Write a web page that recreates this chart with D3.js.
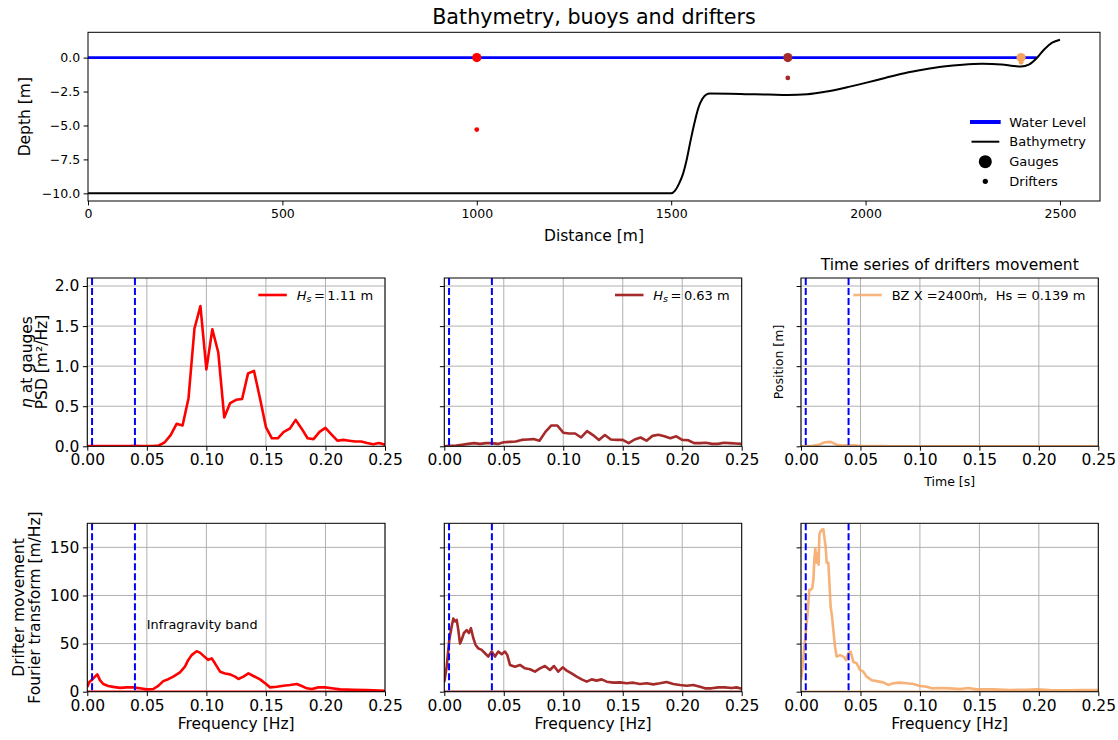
<!DOCTYPE html>
<html>
<head>
<meta charset="utf-8">
<script src="https://cdn.jsdelivr.net/npm/d3@7"></script>
<style>
  body { margin: 0; background: #fff; }
  svg { font-family: "DejaVu Sans", sans-serif; }
  text { fill: #000; }
</style>
</head>
<body>
<svg id="fig" width="1118" height="740"></svg>
<script>
// ---------------- Bathymetry profile, gauges and drifters ----------------
const bathyX = [0, 1500, 1510, 1520, 1530, 1540, 1550, 1560, 1570, 1580, 1590, 1600,
  1650, 1700, 1750, 1800, 1850, 1900, 1950, 2000, 2050, 2100, 2150, 2200, 2250, 2300,
  2350, 2380, 2400, 2420, 2440, 2460, 2480, 2500];
const bathyZ = [-10, -10, -9.8, -9.3, -8.6, -7.5, -6.1, -4.8, -3.7, -3.05, -2.72, -2.65,
  -2.66, -2.7, -2.72, -2.75, -2.7, -2.5, -2.2, -1.86, -1.5, -1.15, -0.88, -0.66, -0.52, -0.46,
  -0.5, -0.62, -0.66, -0.52, -0.05, 0.62, 1.1, 1.32];
const waterLevelX = [0, 2440];
const waterLevelZ = [0, 0];
const stationX = [1000, 1800, 2400];
const gaugeZ = [0, 0, 0];
const drifterZ = [-5.3, -1.5, -0.35];
const stationColors = ["#ff0000", "#a52a2a", "#f4a460"];

const distanceTicks = [0, 500, 1000, 1500, 2000, 2500];
const depthTicks = [0, -2.5, -5, -7.5, -10];
const bathyLegend = ["Water Level", "Bathymetry", "Gauges", "Drifters"];

// ---------------- Wave spectra at gauges (PSD) ----------------
const psdFreq = [0, 0.005, 0.01, 0.015, 0.02, 0.025, 0.03, 0.035, 0.04, 0.045, 0.05,
  0.055, 0.06, 0.065, 0.07, 0.075, 0.08, 0.085, 0.09, 0.095, 0.1,
  0.105, 0.11, 0.115, 0.12, 0.125, 0.13, 0.135, 0.14, 0.145, 0.15,
  0.155, 0.16, 0.165, 0.17, 0.175, 0.18, 0.185, 0.19, 0.195, 0.2,
  0.205, 0.21, 0.215, 0.22, 0.225, 0.23, 0.235, 0.24, 0.245, 0.25];
const psdGauge1000 = [0.002, 0.003, 0.003, 0.003, 0.004, 0.004, 0.004, 0.004, 0.005, 0.004, 0.003,
  0.004, 0.01, 0.05, 0.14, 0.28, 0.26, 0.6, 1.47, 1.75, 0.96,
  1.46, 1.17, 0.36, 0.54, 0.58, 0.59, 0.91, 0.94, 0.6, 0.24,
  0.1, 0.1, 0.18, 0.22, 0.33, 0.22, 0.1, 0.09, 0.18, 0.23,
  0.15, 0.07, 0.08, 0.07, 0.06, 0.06, 0.04, 0.025, 0.04, 0.02];
const psdGauge1800 = [0.0, 0.005, 0.01, 0.02, 0.03, 0.04, 0.03, 0.04, 0.04, 0.03, 0.05,
  0.055, 0.06, 0.08, 0.085, 0.09, 0.07, 0.18, 0.26, 0.26, 0.17,
  0.16, 0.16, 0.11, 0.19, 0.14, 0.08, 0.14, 0.085, 0.08, 0.08,
  0.04, 0.085, 0.11, 0.07, 0.13, 0.145, 0.125, 0.1, 0.125, 0.08,
  0.075, 0.04, 0.04, 0.045, 0.03, 0.03, 0.045, 0.04, 0.035, 0.03];
const psdDrifter2400 = [0, 0.002, 0.006, 0.02, 0.05, 0.055, 0.02, 0.01, 0.012, 0.012, 0.004,
  0.002, 0.002, 0.003, 0.002, 0.001, 0.001, 0.001, 0.001, 0.001, 0.001,
  0.001, 0.001, 0.001, 0.001, 0.001, 0.001, 0.001, 0.001, 0.001, 0.001,
  0.001, 0.001, 0.001, 0.001, 0.001, 0.001, 0.001, 0.001, 0.001, 0.001,
  0.001, 0.001, 0.001, 0.001, 0.001, 0.001, 0.001, 0.001, 0.001, 0.001];
const hsValues = ["1.11", "0.63", "0.139"];

// ---------------- Drifter movement spectra ----------------
const driftFreq1000 = [0, 0.0017, 0.0045, 0.0064, 0.0084, 0.0106, 0.0134, 0.0176, 0.0218, 0.0274,
  0.033, 0.0386, 0.0442, 0.0498, 0.0554, 0.0596, 0.0638, 0.068, 0.0722, 0.0778,
  0.082, 0.0848, 0.0876, 0.0918, 0.0946, 0.0974, 0.1016, 0.1044, 0.1072, 0.1115,
  0.1157, 0.1199, 0.1241, 0.1269, 0.1311, 0.1353, 0.1395, 0.1451, 0.1493, 0.1535,
  0.1591, 0.1647, 0.1703, 0.1759, 0.1801, 0.1843, 0.1885, 0.1941, 0.1997, 0.2053,
  0.2123, 0.2235, 0.2347, 0.25];
const driftAmp1000 = [5, 10, 13, 15.6, 18, 12, 8, 6, 5, 4,
  4.5, 4.5, 3.5, 2.4, 2.8, 6, 11, 13, 15.6, 20,
  26, 33, 38, 42, 40.6, 37.5, 33, 34.7, 29.5, 20.8,
  19, 18, 15.6, 13.2, 15.6, 19, 16.3, 12.8, 8.7, 4.5,
  5.2, 6.2, 7, 8, 5.9, 3.5, 2.8, 4.5, 4.5, 3.5,
  2.4, 2.1, 1.7, 1];

const driftFreq1800 = [0, 0.002, 0.0042, 0.0062, 0.0076, 0.009, 0.0104, 0.0118, 0.0132, 0.0146,
  0.0165, 0.0188, 0.0207, 0.0224, 0.0244, 0.0263, 0.0286, 0.0314, 0.0342, 0.037,
  0.0398, 0.0426, 0.0454, 0.0482, 0.051, 0.053, 0.0552, 0.0594, 0.0636, 0.0678,
  0.072, 0.0762, 0.0804, 0.0846, 0.0888, 0.0922, 0.0958, 0.0995, 0.1029, 0.107,
  0.1113, 0.1155, 0.1197, 0.1239, 0.128, 0.1323, 0.1365, 0.142, 0.1477, 0.1533,
  0.1589, 0.1645, 0.1701, 0.1757, 0.1813, 0.1869, 0.1925, 0.1981, 0.2037, 0.2093,
  0.2149, 0.2191, 0.2247, 0.2303, 0.2359, 0.2415, 0.2457, 0.25];
const driftAmp1800 = [10, 26, 54, 67.7, 76, 73, 74.7, 64, 50, 54,
  61, 64, 61, 66, 55.6, 48.6, 45, 43.4, 40, 36.5,
  41.7, 36.5, 41.7, 39, 41.7, 38, 27.8, 26, 27.8, 24.3,
  23.3, 20.8, 24.3, 26.7, 22.6, 26.7, 20.8, 25.3, 21.9, 19,
  15.6, 12.8, 10.4, 12.8, 11.5, 12.8, 10.4, 9.4, 9.7, 8.7,
  9.4, 8, 8.7, 7.6, 8.7, 10, 8, 7, 6.2, 7,
  5.2, 3.5, 3.5, 4.5, 4.5, 3.8, 4.5, 3.1];

const driftFreq2400 = [0, 0.0014, 0.0028, 0.0042, 0.0056, 0.007, 0.0081, 0.0095, 0.0104, 0.0112,
  0.012, 0.0132, 0.014, 0.0149, 0.0154, 0.0165, 0.0177, 0.0188, 0.0196, 0.0207,
  0.0216, 0.023, 0.0238, 0.0249, 0.0261, 0.0272, 0.0286, 0.03, 0.0328, 0.0356,
  0.0378, 0.0398, 0.0417, 0.044, 0.0468, 0.0496, 0.0524, 0.0552, 0.0594, 0.0636,
  0.0692, 0.0734, 0.0776, 0.0832, 0.0888, 0.0944, 0.1001, 0.1057, 0.1099, 0.1169,
  0.1253, 0.1337, 0.1407, 0.1477, 0.1617, 0.1757, 0.1897, 0.1981, 0.2093, 0.2233,
  0.2374, 0.25];
const driftAmp2400 = [12, 26, 47, 64, 81.6, 106, 106, 107.6, 116, 137,
  149, 134, 144, 132, 163, 166.7, 168.4, 169, 161, 151,
  134, 134, 116, 88.5, 78, 64, 47, 36.5, 38, 36.5,
  33, 40, 41.7, 31, 29.5, 22.6, 20.8, 15.6, 12, 11,
  9.7, 7, 8.7, 9.4, 8.7, 8, 5.9, 5.2, 3.5, 3.8,
  3.5, 2.8, 3.8, 2.4, 2.4, 1.7, 2.1, 2.4, 1.7, 1.4,
  1.7, 1.7];

const bandLimits = [0.004, 0.04];
const freqTicks = [0, 0.05, 0.1, 0.15, 0.2, 0.25];
const psdTicks = [0, 0.5, 1, 1.5, 2];
const ampTicks = [0, 50, 100, 150];

// ---------------- Figure setup ----------------
const svg = d3.select("#fig");
const defs = svg.append("defs");
svg.append("rect").attr("width", 1118).attr("height", 740).attr("fill", "#fff");

const cols = [[87.3, 385], [444.3, 741.7], [801, 1098.3]];
const midRow = [278, 446.3];
const botRow = [523.3, 691.7];

let clipCount = 0;
function makePanel(x0, x1, y0, y1, xDomain, yDomain) {
  const id = "clip" + (clipCount++);
  defs.append("clipPath").attr("id", id).append("rect")
    .attr("x", x0).attr("y", y0).attr("width", x1 - x0).attr("height", y1 - y0);
  const x = d3.scaleLinear().domain(xDomain).range([x0, x1]);
  const y = d3.scaleLinear().domain(yDomain).range([y1, y0]);
  const g = svg.append("g");
  const grid = g.append("g");
  const data = g.append("g").attr("clip-path", `url(#${id})`);
  const frame = g.append("g");
  return { x, y, g, grid, data, frame, x0, x1, y0, y1 };
}

function drawGrid(p, xTicks, yTicks) {
  p.grid.selectAll("line.vx").data(xTicks).join("line")
    .attr("x1", d => p.x(d)).attr("x2", d => p.x(d))
    .attr("y1", p.y0).attr("y2", p.y1)
    .attr("stroke", "#b0b0b0").attr("stroke-width", 1);
  p.grid.selectAll("line.hy").data(yTicks).join("line")
    .attr("x1", p.x0).attr("x2", p.x1)
    .attr("y1", d => p.y(d)).attr("y2", d => p.y(d))
    .attr("stroke", "#b0b0b0").attr("stroke-width", 1);
}

function drawAxes(p, xTicks, xFmt, yTicks, yFmt, fontSize) {
  const ax = p.frame.append("g").attr("transform", `translate(0,${p.y1})`)
    .call(d3.axisBottom(p.x).tickValues(xTicks).tickFormat(xFmt || (() => ""))
      .tickSize(4.4).tickPadding(3.5));
  const ay = p.frame.append("g").attr("transform", `translate(${p.x0},0)`)
    .call(d3.axisLeft(p.y).tickValues(yTicks).tickFormat(yFmt || (() => ""))
      .tickSize(4.4).tickPadding(3.5));
  [ax, ay].forEach(a => {
    a.select(".domain").remove();
    a.selectAll("line").attr("stroke", "#000").attr("stroke-width", 1);
    a.selectAll("text").attr("fill", "#000")
      .style("font-size", fontSize + "px").style("font-family", "DejaVu Sans, sans-serif");
  });
  p.frame.append("rect")
    .attr("x", p.x0).attr("y", p.y0).attr("width", p.x1 - p.x0).attr("height", p.y1 - p.y0)
    .attr("fill", "none").attr("stroke", "#000").attr("stroke-width", 1);
}

function drawBand(p) {
  p.data.selectAll("line.band").data(bandLimits).join("line")
    .attr("x1", d => p.x(d)).attr("x2", d => p.x(d))
    .attr("y1", p.y0).attr("y2", p.y1)
    .attr("stroke", "#0000ff").attr("stroke-width", 2).attr("stroke-dasharray", "7,3");
}

function drawSeries(p, xs, ys, color, opacity) {
  const line = d3.line().x(i => p.x(xs[i])).y(i => p.y(ys[i]));
  p.data.append("path")
    .attr("d", line(d3.range(xs.length)))
    .attr("fill", "none").attr("stroke", color).attr("stroke-width", 2.6)
    .attr("stroke-linejoin", "round").attr("stroke-opacity", opacity);
}

function drawZeroTrace(p, color, opacity) {
  p.data.append("line")
    .attr("x1", p.x(0)).attr("x2", p.x(0.25))
    .attr("y1", p.y(0)).attr("y2", p.y(0))
    .attr("stroke", color).attr("stroke-width", 2.6).attr("stroke-opacity", opacity);
}

// ---------------- Top: bathymetry ----------------
const bathyPanel = makePanel(88, 1100, 32.3, 201, [0, 2603], [-10.565, 1.865]);
{
  const bp = bathyPanel;
  const lineW = d3.line().x(i => bp.x(waterLevelX[i])).y(i => bp.y(waterLevelZ[i]));
  bp.data.append("path").attr("d", lineW(d3.range(waterLevelX.length)))
    .attr("fill", "none").attr("stroke", "#0000ff").attr("stroke-width", 2.6);
  const lineB = d3.line().curve(d3.curveMonotoneX)
    .x(i => bp.x(bathyX[i])).y(i => bp.y(bathyZ[i]));
  bp.data.append("path").attr("d", lineB(d3.range(bathyX.length)))
    .attr("fill", "none").attr("stroke", "#000").attr("stroke-width", 2);
  stationX.forEach((sx, i) => {
    bp.data.append("circle").attr("cx", bp.x(sx)).attr("cy", bp.y(gaugeZ[i]))
      .attr("r", 4.6).attr("fill", stationColors[i]);
    bp.data.append("circle").attr("cx", bp.x(sx)).attr("cy", bp.y(drifterZ[i]))
      .attr("r", 2.4).attr("fill", stationColors[i]);
  });
  drawAxes(bp, distanceTicks, d3.format("d"), depthTicks, d3.format(".1f"), 12.5);

  // legend
  const lg = svg.append("g").style("font-size", "13px");
  const rows = [122, 141.7, 161.7, 181.3];
  lg.append("line").attr("x1", 970).attr("x2", 1000.7).attr("y1", rows[0]).attr("y2", rows[0])
    .attr("stroke", "#0000ff").attr("stroke-width", 4);
  lg.append("line").attr("x1", 971.5).attr("x2", 999.3).attr("y1", rows[1]).attr("y2", rows[1])
    .attr("stroke", "#000").attr("stroke-width", 2);
  lg.append("circle").attr("cx", 985.3).attr("cy", rows[2]).attr("r", 6.5).attr("fill", "#000");
  lg.append("circle").attr("cx", 985.3).attr("cy", rows[3]).attr("r", 2.6).attr("fill", "#000");
  bathyLegend.forEach((t, i) => {
    lg.append("text").attr("x", 1009.3).attr("y", rows[i]).attr("dy", "0.35em").text(t);
  });

  svg.append("text").attr("x", 594).attr("y", 17).attr("dy", "0.35em")
    .attr("text-anchor", "middle").style("font-size", "20.7px")
    .text("Bathymetry, buoys and drifters");
  svg.append("text").attr("x", 594).attr("y", 236).attr("dy", "0.35em")
    .attr("text-anchor", "middle").style("font-size", "15.5px").text("Distance [m]");
  svg.append("text").attr("transform", "translate(25,116.7) rotate(-90)")
    .attr("dy", "0.35em").attr("text-anchor", "middle").style("font-size", "15.5px")
    .text("Depth [m]");
}

// ---------------- Middle row: spectra at gauges ----------------
const psdSeries = [psdGauge1000, psdGauge1800, psdDrifter2400];
const midPanels = cols.map(c => makePanel(c[0], c[1], midRow[0], midRow[1], [0, 0.25], [0, 2.1]));
midPanels.forEach((p, i) => {
  drawGrid(p, freqTicks, psdTicks);
  const op = i === 2 ? 0.85 : 1;
  drawSeries(p, psdFreq, psdSeries[i], stationColors[i], op);
  drawBand(p);
  drawAxes(p, freqTicks, d3.format(".2f"), psdTicks, i === 0 ? d3.format(".1f") : null, 15.5);
});

function hsLegend(lineX0, textX, label) {
  const yy = 295;
  const g = svg.append("g");
  g.append("line").attr("x1", lineX0).attr("x2", lineX0 + 28.5).attr("y1", yy).attr("y2", yy)
    .attr("stroke", label.color).attr("stroke-width", 2.6).attr("stroke-opacity", label.op);
  const t = g.append("text").attr("x", textX).attr("y", yy).attr("dy", "0.35em")
    .style("font-size", "13px");
  if (label.math) {
    t.append("tspan").style("font-style", "italic").text("H");
    t.append("tspan").style("font-style", "italic").style("font-size", "9.5px")
      .attr("dy", 2.5).text("s");
    t.append("tspan").attr("dy", -2.5).attr("dx", 2.5).text("=");
    t.append("tspan").attr("dx", 2.5).text(label.text);
  } else {
    t.attr("xml:space", "preserve").style("white-space", "pre").text(label.text);
  }
}
hsLegend(258.3, 296.7, { color: stationColors[0], op: 1, math: true, text: hsValues[0] + " m" });
hsLegend(615, 653.3, { color: stationColors[1], op: 1, math: true, text: hsValues[1] + " m" });
hsLegend(853.3, 891.7, { color: stationColors[2], op: 0.8, math: false,
  text: "BZ X =2400m,  Hs = " + hsValues[2] + " m" });

{
  const yl = svg.append("g").style("font-size", "15.5px");
  const t1 = yl.append("text").attr("transform", "translate(26.5,362) rotate(-90)")
    .attr("dy", "0.35em").attr("text-anchor", "middle");
  t1.append("tspan").style("font-style", "italic").text("η");
  t1.append("tspan").text(" at gauges");
  yl.append("text").attr("transform", "translate(42,362) rotate(-90)")
    .attr("dy", "0.35em").attr("text-anchor", "middle").text("PSD [m²/Hz]");

  svg.append("text").attr("transform", "translate(779,362) rotate(-90)")
    .attr("dy", "0.35em").attr("text-anchor", "middle").style("font-size", "12.5px")
    .text("Position [m]");
  svg.append("text").attr("x", 949.7).attr("y", 482).attr("dy", "0.35em")
    .attr("text-anchor", "middle").style("font-size", "12.5px").text("Time [s]");
  svg.append("text").attr("x", 949.7).attr("y", 265).attr("dy", "0.35em")
    .attr("text-anchor", "middle").style("font-size", "15.5px")
    .text("Time series of drifters movement");
}

// ---------------- Bottom row: drifter movement spectra ----------------
const driftSeries = [[driftFreq1000, driftAmp1000], [driftFreq1800, driftAmp1800], [driftFreq2400, driftAmp2400]];
const botPanels = cols.map(c => makePanel(c[0], c[1], botRow[0], botRow[1], [0, 0.25], [0, 175]));
botPanels.forEach((p, i) => {
  drawGrid(p, freqTicks, ampTicks);
  const op = i === 2 ? 0.85 : 1;
  drawSeries(p, driftSeries[i][0], driftSeries[i][1], stationColors[i], op);
  drawZeroTrace(p, stationColors[i], op);
  drawBand(p);
  drawAxes(p, freqTicks, d3.format(".2f"), ampTicks, i === 0 ? d3.format("d") : null, 15.5);
  svg.append("text").attr("x", (p.x0 + p.x1) / 2).attr("y", 723.5).attr("dy", "0.35em")
    .attr("text-anchor", "middle").style("font-size", "15.5px").text("Frequency [Hz]");
});
svg.append("text").attr("x", botPanels[0].x(0.05)).attr("y", botPanels[0].y(65))
  .style("font-size", "12.8px").text("Infragravity band");
{
  const yl = svg.append("g").style("font-size", "15.5px");
  yl.append("text").attr("transform", "translate(18.3,607.5) rotate(-90)")
    .attr("dy", "0.35em").attr("text-anchor", "middle").text("Drifter movement");
  yl.append("text").attr("transform", "translate(35,607.5) rotate(-90)")
    .attr("dy", "0.35em").attr("text-anchor", "middle").text("Fourier transform [m/Hz]");
}
</script>
</body>
</html>
